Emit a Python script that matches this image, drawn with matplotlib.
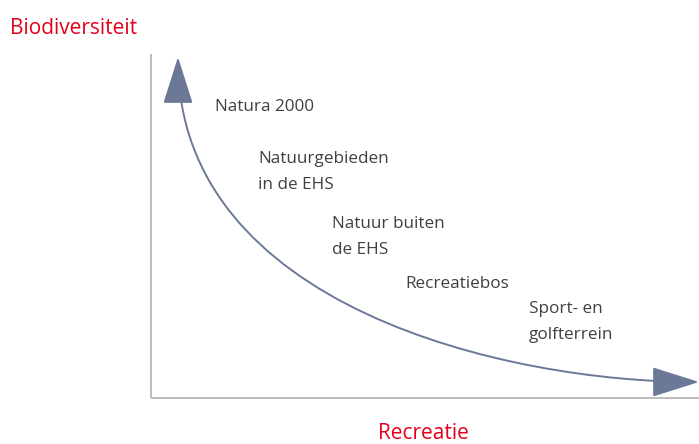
import matplotlib
matplotlib.use("Agg")
import matplotlib.pyplot as plt
import numpy as np
from matplotlib.patches import FancyArrowPatch
from matplotlib.path import Path

# Conceptual diagram content
axis_x_label = "Recreatie"
axis_y_label = "Biodiversiteit"
categories = ["Natura 2000", "Natuurgebieden\nin de EHS", "Natuur buiten\nde EHS",
              "Recreatiebos", "Sport- en\ngolfterrein"]
# label anchor positions (pixel space, left / top of first line)
label_x = [215, 258, 332, 405, 529]
label_y = [99, 151, 216, 276, 301]
# points (pixel space, first/last are the arrow tips)
curve_x = [178, 178, 193, 240, 290, 340, 380, 430, 495, 560, 677, 699]
curve_y = [57, 90, 150, 213, 260, 297, 322, 342, 362, 373, 382, 382]

W, H = 699, 444
fig = plt.figure(figsize=(W / 100, H / 100), dpi=100)
ax = fig.add_axes([0, 0, 1, 1])
ax.set_xlim(0, W)
ax.set_ylim(H, 0)
ax.axis("off")

font = "Open Sans"
red = "#e3001b"
txt = "#404040"
arrow_c = "#6b7997"

# axes lines
ax.plot([151, 151], [54, 398], color="#b0b0b0", lw=1.2, solid_capstyle="butt")
ax.plot([151, 699], [398, 398], color="#b0b0b0", lw=1.2, solid_capstyle="butt")

# smooth cubic Bezier through the read points: vertical tangent at the top,
# horizontal tangent at the right end, remaining controls by least squares
P = np.column_stack([curve_x, curve_y]).astype(float)
d = np.r_[0, np.cumsum(np.hypot(*np.diff(P, axis=0).T))]
t = d / d[-1]
P0, P3 = P[0], P[-1]
b0 = (1 - t) ** 3
b1 = 3 * t * (1 - t) ** 2
b2 = 3 * t ** 2 * (1 - t)
b3 = t ** 3
rx = P[:, 0] - b0 * P0[0] - b3 * P3[0] - b1 * P0[0]
ry = P[:, 1] - b0 * P0[1] - b3 * P3[1] - b2 * P3[1]
p2x = np.dot(b2, rx) / np.dot(b2, b2)
p1y = np.dot(b1, ry) / np.dot(b1, b1)
P1 = (P0[0], p1y)
P2 = (p2x, P3[1])
path = Path([tuple(P0), P1, P2, tuple(P3)],
            [Path.MOVETO, Path.CURVE4, Path.CURVE4, Path.CURVE4])
arr = FancyArrowPatch(path=path, arrowstyle="<|-|>,head_length=30,head_width=9.5",
                      color=arrow_c, lw=1.4, mutation_scale=1)
ax.add_patch(arr)

for lab, x, y in zip(categories, label_x, label_y):
    ax.text(x, y, lab, fontsize=12.3, family=font, color=txt, ha="left",
            va="top", linespacing=1.8)

ax.text(10, 28, axis_y_label, fontsize=15, family=font, color=red, ha="left", va="center")
ax.text(423, 433, axis_x_label, fontsize=15, family=font, color=red, ha="center", va="center")

fig.savefig("out.png", dpi=100)
